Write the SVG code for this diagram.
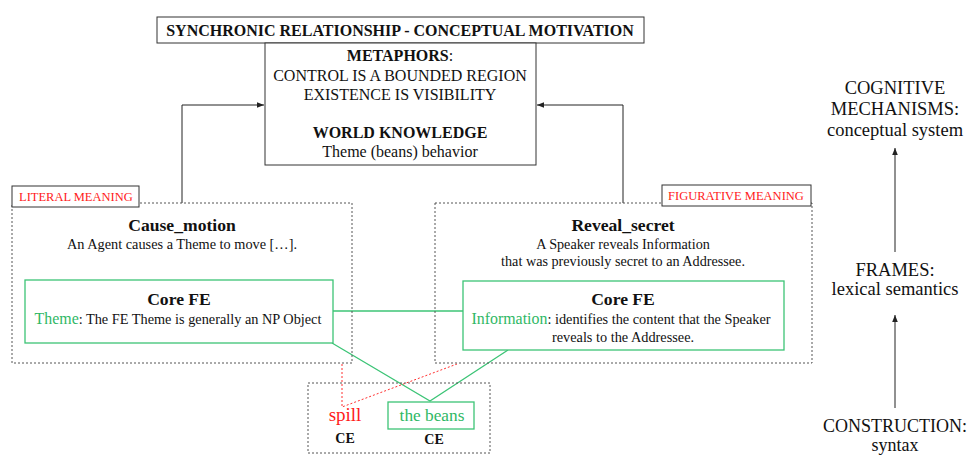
<svg xmlns="http://www.w3.org/2000/svg" width="970" height="456" viewBox="0 0 970 456" font-family="'Liberation Serif', Tinos, 'Times New Roman', 'DejaVu Serif', serif">
<defs>
<marker id="ah" viewBox="0 0 10 10" refX="10" refY="5" markerWidth="7" markerHeight="7" orient="auto" markerUnits="userSpaceOnUse">
<path d="M0,1 L10,5 L0,9 Z" fill="#222"/>
</marker>
</defs>
<style>
text{fill:#111}
.b{font-weight:bold}
.c{text-anchor:middle}
.red{fill:#ff1a1a}
.grn{fill:#2fb865}
.solid{fill:#fff;stroke:#333;stroke-width:1}
.dash{fill:none;stroke:#555;stroke-width:1;stroke-dasharray:2,2}
.gbox{fill:#fff;stroke:#3cc476;stroke-width:1.3}
.gline{stroke:#3cc476;stroke-width:1.3;fill:none}
.rline{stroke:#ff3030;stroke-width:1;stroke-dasharray:2,2;fill:none}
.arr{stroke:#222;stroke-width:1;fill:none;marker-end:url(#ah)}
</style>

<g id="connectors">
<path class="arr" d="M182,203 V105 H264"/>
<path class="arr" d="M623,203 V105 H537"/>
<line class="gline" x1="333" y1="311" x2="463" y2="311"/>
<polyline class="gline" points="332,343 430,401 508,350"/>
<polyline class="rline" points="342,364 342,407 457,364"/>
<line class="arr" x1="895" y1="252" x2="895" y2="148"/>
<line class="arr" x1="895" y1="408" x2="895" y2="315"/>
</g>

<g id="title">
<rect class="solid" x="157" y="17" width="487" height="26"/>
<text class="b c" x="400" y="36" font-size="16">SYNCHRONIC RELATIONSHIP - CONCEPTUAL MOTIVATION</text>
</g>

<g id="motivation">
<rect class="solid" x="265" y="43" width="271" height="122"/>
<text class="c" x="400" y="61" font-size="16"><tspan class="b">METAPHORS</tspan>:</text>
<text class="c" x="400" y="81" font-size="16">CONTROL IS A BOUNDED REGION</text>
<text class="c" x="400" y="100" font-size="16">EXISTENCE IS VISIBILITY</text>
<text class="c b" x="400" y="138" font-size="16">WORLD KNOWLEDGE</text>
<text class="c" x="400" y="157" font-size="16">Theme (beans) behavior</text>
</g>

<g id="literal">
<rect class="dash" x="12" y="203" width="340" height="160"/>
<rect class="solid" x="12" y="186" width="127" height="21"/>
<text class="red" x="19" y="201" font-size="12.5">LITERAL MEANING</text>
<text class="c b" x="182" y="231" font-size="17.6">Cause_motion</text>
<text class="c" x="182" y="249" font-size="14.3">An Agent causes a Theme to move […].</text>
</g>

<g id="literal-core">
<rect class="gbox" x="25" y="280" width="308" height="63"/>
<text class="c b" x="179" y="305" font-size="17.6">Core FE</text>
<text class="c" x="178" y="324" font-size="14.3"><tspan class="grn" font-size="15.9">Theme</tspan>: The FE Theme is generally an NP Object</text>
</g>

<g id="figurative">
<rect class="dash" x="435" y="203" width="377" height="160"/>
<rect class="solid" x="662" y="185" width="149" height="21"/>
<text class="red c" x="736" y="200" font-size="12.5">FIGURATIVE MEANING</text>
<text class="c b" x="623" y="231" font-size="17.6">Reveal_secret</text>
<text class="c" x="623" y="249" font-size="14.2">A Speaker reveals Information</text>
<text class="c" x="623" y="266" font-size="14.2">that was previously secret to an Addressee.</text>
</g>

<g id="figurative-core">
<rect class="gbox" x="463" y="281" width="321" height="69"/>
<text class="c b" x="623" y="305" font-size="17.6">Core FE</text>
<text class="c" x="621" y="324" font-size="14.3"><tspan class="grn" font-size="15.9">Information</tspan>: identifies the content that the Speaker</text>
<text class="c" x="623" y="342" font-size="14.3">reveals to the Addressee.</text>
</g>

<g id="construction">
<rect class="dash" x="308" y="383" width="182" height="70"/>
<text class="c red" x="345" y="421" font-size="19">spill</text>
<text class="c b" x="345" y="443" font-size="14">CE</text>
<rect class="gbox" x="388" y="402" width="86" height="27"/>
<text class="c grn" x="432" y="421" font-size="17.3">the beans</text>
<text class="c b" x="434" y="444" font-size="14">CE</text>
</g>

<g id="cognitive">
<text class="c" x="895" y="94" font-size="18.5">COGNITIVE</text>
<text class="c" x="895" y="115" font-size="18.5">MECHANISMS:</text>
<text class="c" x="895" y="136" font-size="18.5">conceptual system</text>
</g>

<g id="frames">
<text class="c" x="895" y="276" font-size="18.5">FRAMES:</text>
<text class="c" x="895" y="295" font-size="18.5">lexical semantics</text>
</g>

<g id="syntax">
<text class="c" x="895" y="432" font-size="18">CONSTRUCTION:</text>
<text class="c" x="895" y="451" font-size="18">syntax</text>
</g>
</svg>
